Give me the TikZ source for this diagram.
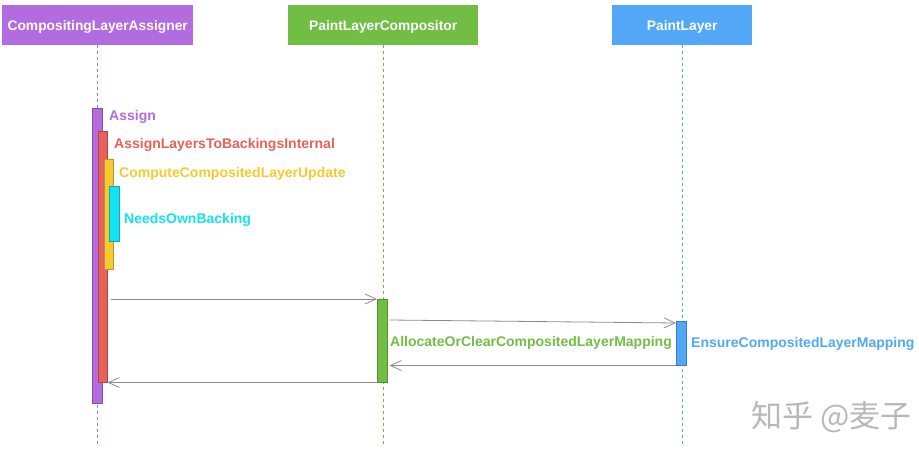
\documentclass[tikz,border=0pt]{standalone}
\usepackage{xcolor}
\usepackage{fontspec}
\setmainfont{Liberation Sans}
\newfontfamily\cjkfont{Noto Sans CJK SC}
\usetikzlibrary{arrows.meta}

\definecolor{assignerpurple}{HTML}{B36BE0}
\definecolor{compositorgreen}{HTML}{72BE44}
\definecolor{layerblue}{HTML}{52A8F7}
\definecolor{internalred}{HTML}{E8605A}
\definecolor{updateyellow}{HTML}{F5C932}
\definecolor{backingcyan}{HTML}{12E3F3}
\definecolor{msggray}{HTML}{8C8C8C}

\tikzset{
    header/.style={fill=#1, text=white, inner sep=0pt, minimum height=40pt,
        text depth=0pt, anchor=north west, font=\bfseries\fontsize{13.8}{15}\selectfont},
    lifeline/.style={#1, line width=0.6pt, dash pattern=on 3pt off 3pt},
    bar/.style={fill=#1, draw=#1!75!black, line width=0.5pt, inner sep=0pt,
        anchor=north west},
    call/.style={text=#1, anchor=west, inner sep=0pt,
        font=\bfseries\fontsize{14}{16}\selectfont},
    msg/.style={msggray, line width=0.8pt, -{Straight Barb[length=11pt,width=10pt]}}
}

\begin{document}
\begin{tikzpicture}[x=1pt,y=-1pt]
    \useasboundingbox (0,0) rectangle (919,455);

    % Participants
    \node[header=assignerpurple, minimum width=191pt] (assigner) at (2,5) {CompositingLayerAssigner};
    \node[header=compositorgreen, minimum width=190pt] (compositor) at (288,5) {PaintLayerCompositor};
    \node[header=layerblue, minimum width=140pt] (layer) at (612,5) {PaintLayer};

    % Lifelines
    \foreach \h/\c in {assigner/assignerpurple, compositor/compositorgreen, layer/layerblue} {
        \coordinate (\h end) at (\h.south |- 0,447);
        \draw[lifeline=\c] (\h.south) -- (\h end);
    }

    % Activation bars
    \node[bar=assignerpurple, minimum width=10pt, minimum height=295pt] (assign) at (92,108) {};
    \node[bar=internalred, minimum width=9pt, minimum height=251pt] (internal) at (98,131) {};
    \node[bar=updateyellow, minimum width=9pt, minimum height=110pt] (update) at (104,159) {};
    \node[bar=backingcyan, minimum width=10pt, minimum height=55pt] (backing) at (109,186) {};
    \node[bar=compositorgreen, minimum width=10pt, minimum height=83pt] (allocate) at (377,299) {};
    \node[bar=layerblue, minimum width=10pt, minimum height=44pt] (ensure) at (676,321) {};

    % Call names
    \node[call=assignerpurple] (assign text) at (109,117) {Assign};
    \node[call=internalred] (internal text) at (114,145) {AssignLayersToBackingsInternal};
    \node[call=updateyellow] (update text) at (119,174) {ComputeCompositedLayerUpdate};
    \node[call=backingcyan] (backing text) at (124,220) {NeedsOwnBacking};
    \node[call=compositorgreen] (allocate text) at (390,343) {AllocateOrClearCompositedLayerMapping};
    \node[call=layerblue] (ensure text) at (691,344) {EnsureCompositedLayerMapping};

    % Messages
    \draw[msg] ([xshift=3pt]internal.east |- allocate.north) -- (allocate.north west);
    \draw[msg] ([xshift=2pt,yshift=-21pt]allocate.north east) -- ([yshift=-2pt]ensure.north west);
    \draw[msg] (ensure.south west) -- ([xshift=2pt]allocate.east |- ensure.south west);
    \draw[msg] (allocate.south west) -- (internal.south east);

    % Watermark
    \node[anchor=west, inner sep=0pt, text=black!28, font=\cjkfont\fontsize{31}{33}\selectfont] (mark) at (751,417) {知乎 @麦子};
\end{tikzpicture}
\end{document}
